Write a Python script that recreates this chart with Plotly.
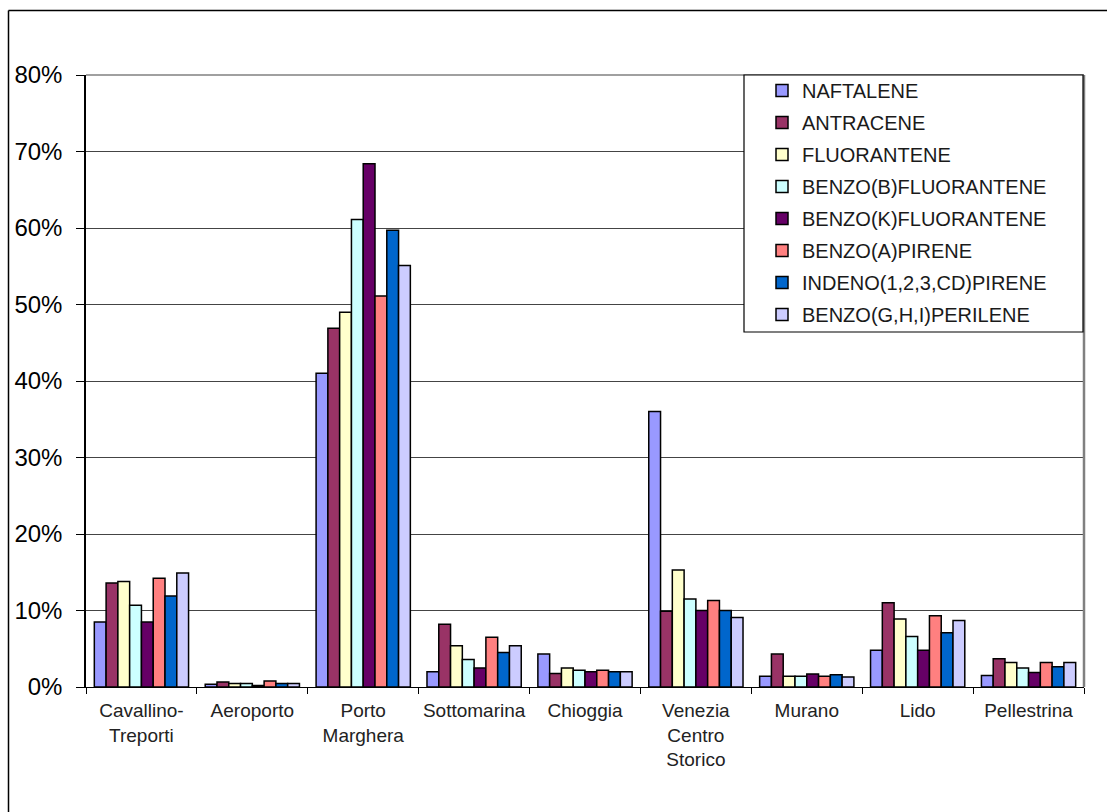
import plotly.graph_objects as go

categories = ["Cavallino-<br>Treporti", "Aeroporto", "Porto<br>Marghera", "Sottomarina",
              "Chioggia", "Venezia<br>Centro<br>Storico", "Murano", "Lido", "Pellestrina"]

series_names = ["NAFTALENE", "ANTRACENE", "FLUORANTENE", "BENZO(B)FLUORANTENE",
                "BENZO(K)FLUORANTENE", "BENZO(A)PIRENE", "INDENO(1,2,3,CD)PIRENE",
                "BENZO(G,H,I)PERILENE"]

naftalene = [8.5, 0.35, 41.0, 2.0, 4.3, 36.0, 1.4, 4.8, 1.5]
antracene = [13.6, 0.65, 46.9, 8.2, 1.75, 9.9, 4.3, 11.0, 3.7]
fluorantene = [13.8, 0.45, 49.0, 5.4, 2.5, 15.3, 1.4, 8.9, 3.2]
benzo_b = [10.7, 0.45, 61.1, 3.6, 2.2, 11.5, 1.4, 6.6, 2.5]
benzo_k = [8.5, 0.2, 68.4, 2.5, 2.0, 10.0, 1.7, 4.8, 1.9]
benzo_a = [14.2, 0.8, 51.1, 6.5, 2.2, 11.3, 1.4, 9.3, 3.2]
indeno = [11.9, 0.45, 59.7, 4.5, 2.0, 10.0, 1.6, 7.1, 2.65]
benzo_ghi = [14.9, 0.45, 55.1, 5.4, 2.0, 9.1, 1.3, 8.7, 3.2]

series_values = [naftalene, antracene, fluorantene, benzo_b, benzo_k, benzo_a, indeno, benzo_ghi]
colors = ["#9999FF", "#993366", "#FFFFCC", "#CCFFFF", "#660066", "#FF8080", "#0066CC", "#CCCCFF"]

y_tickvals = [0, 0.1, 0.2, 0.3, 0.4, 0.5, 0.6, 0.7, 0.8]

fig = go.Figure()
for i, (name, vals, col) in enumerate(zip(series_names, series_values, colors)):
    fig.add_trace(go.Bar(
        x=categories, y=[v / 100 for v in vals], name=name,
        legendgroup=f"g{i}",
        marker=dict(color=col, line=dict(color="#000000", width=1.5)),
    ))

W, H = 1107, 812
L, R, T, B = 86, 23, 75, 125
pw, ph = W - L - R, H - T - B

def px_x(x):
    return (x - L) / pw

def px_y(y):
    return (H - B - y) / ph

fig.update_layout(
    width=W, height=H,
    margin=dict(l=L, r=R, t=T, b=B, pad=0, autoexpand=False),
    paper_bgcolor="white", plot_bgcolor="white",
    barmode="group", bargap=0.15, bargroupgap=0,
    font=dict(family="Liberation Sans, Arial, sans-serif", color="#000000"),
    showlegend=True,
    legend=dict(
        x=px_x(762), y=px_y(71), xanchor="left", yanchor="top",
        bgcolor="rgba(0,0,0,0)", borderwidth=0,
        font=dict(size=20, color="#1a1a1a"),
        tracegroupgap=3, traceorder="grouped",
        itemwidth=30,
    ),
    xaxis=dict(
        showline=True, linecolor="#000000", linewidth=1,
        ticks="outside", ticklen=6, tickcolor="#000000", tickson="boundaries",
        tickangle=0, automargin=False, ticklabelstandoff=6,
        tickfont=dict(size=19, color="#222222"),
        showgrid=False,
    ),
    yaxis=dict(
        range=[0, 0.8], tickvals=y_tickvals, tickformat=".0%",
        showline=True, linecolor="#000000", linewidth=1.5,
        ticks="outside", ticklen=8, tickcolor="#000000",
        ticklabelstandoff=9, automargin=False,
        tickfont=dict(size=24, color="#000000"),
        showgrid=True, gridcolor="#444444", gridwidth=1,
        zeroline=False,
    ),
    shapes=[
        # plot area border (top and right)
        dict(type="line", xref="paper", yref="paper", x0=0, x1=1, y0=1, y1=1,
             line=dict(color="#808080", width=1.5)),
        dict(type="line", xref="paper", yref="paper", x0=1, x1=1, y0=0, y1=1,
             line=dict(color="#808080", width=2.5)),
        # legend box
        dict(type="rect", xref="paper", yref="paper", x0=px_x(744), x1=px_x(1083),
             y0=px_y(332), y1=px_y(75), fillcolor="white",
             line=dict(color="#000000", width=1.2), layer="above"),
        # outer chart border (top and left visible)
        dict(type="line", xref="paper", yref="paper", x0=px_x(8.5), x1=px_x(1120),
             y0=px_y(10.5), y1=px_y(10.5), line=dict(color="#000000", width=1.5)),
        dict(type="line", xref="paper", yref="paper", x0=px_x(8.5), x1=px_x(8.5),
             y0=px_y(10.5), y1=px_y(830), line=dict(color="#000000", width=1.5)),
    ],
)

fig.write_html("out.html")
